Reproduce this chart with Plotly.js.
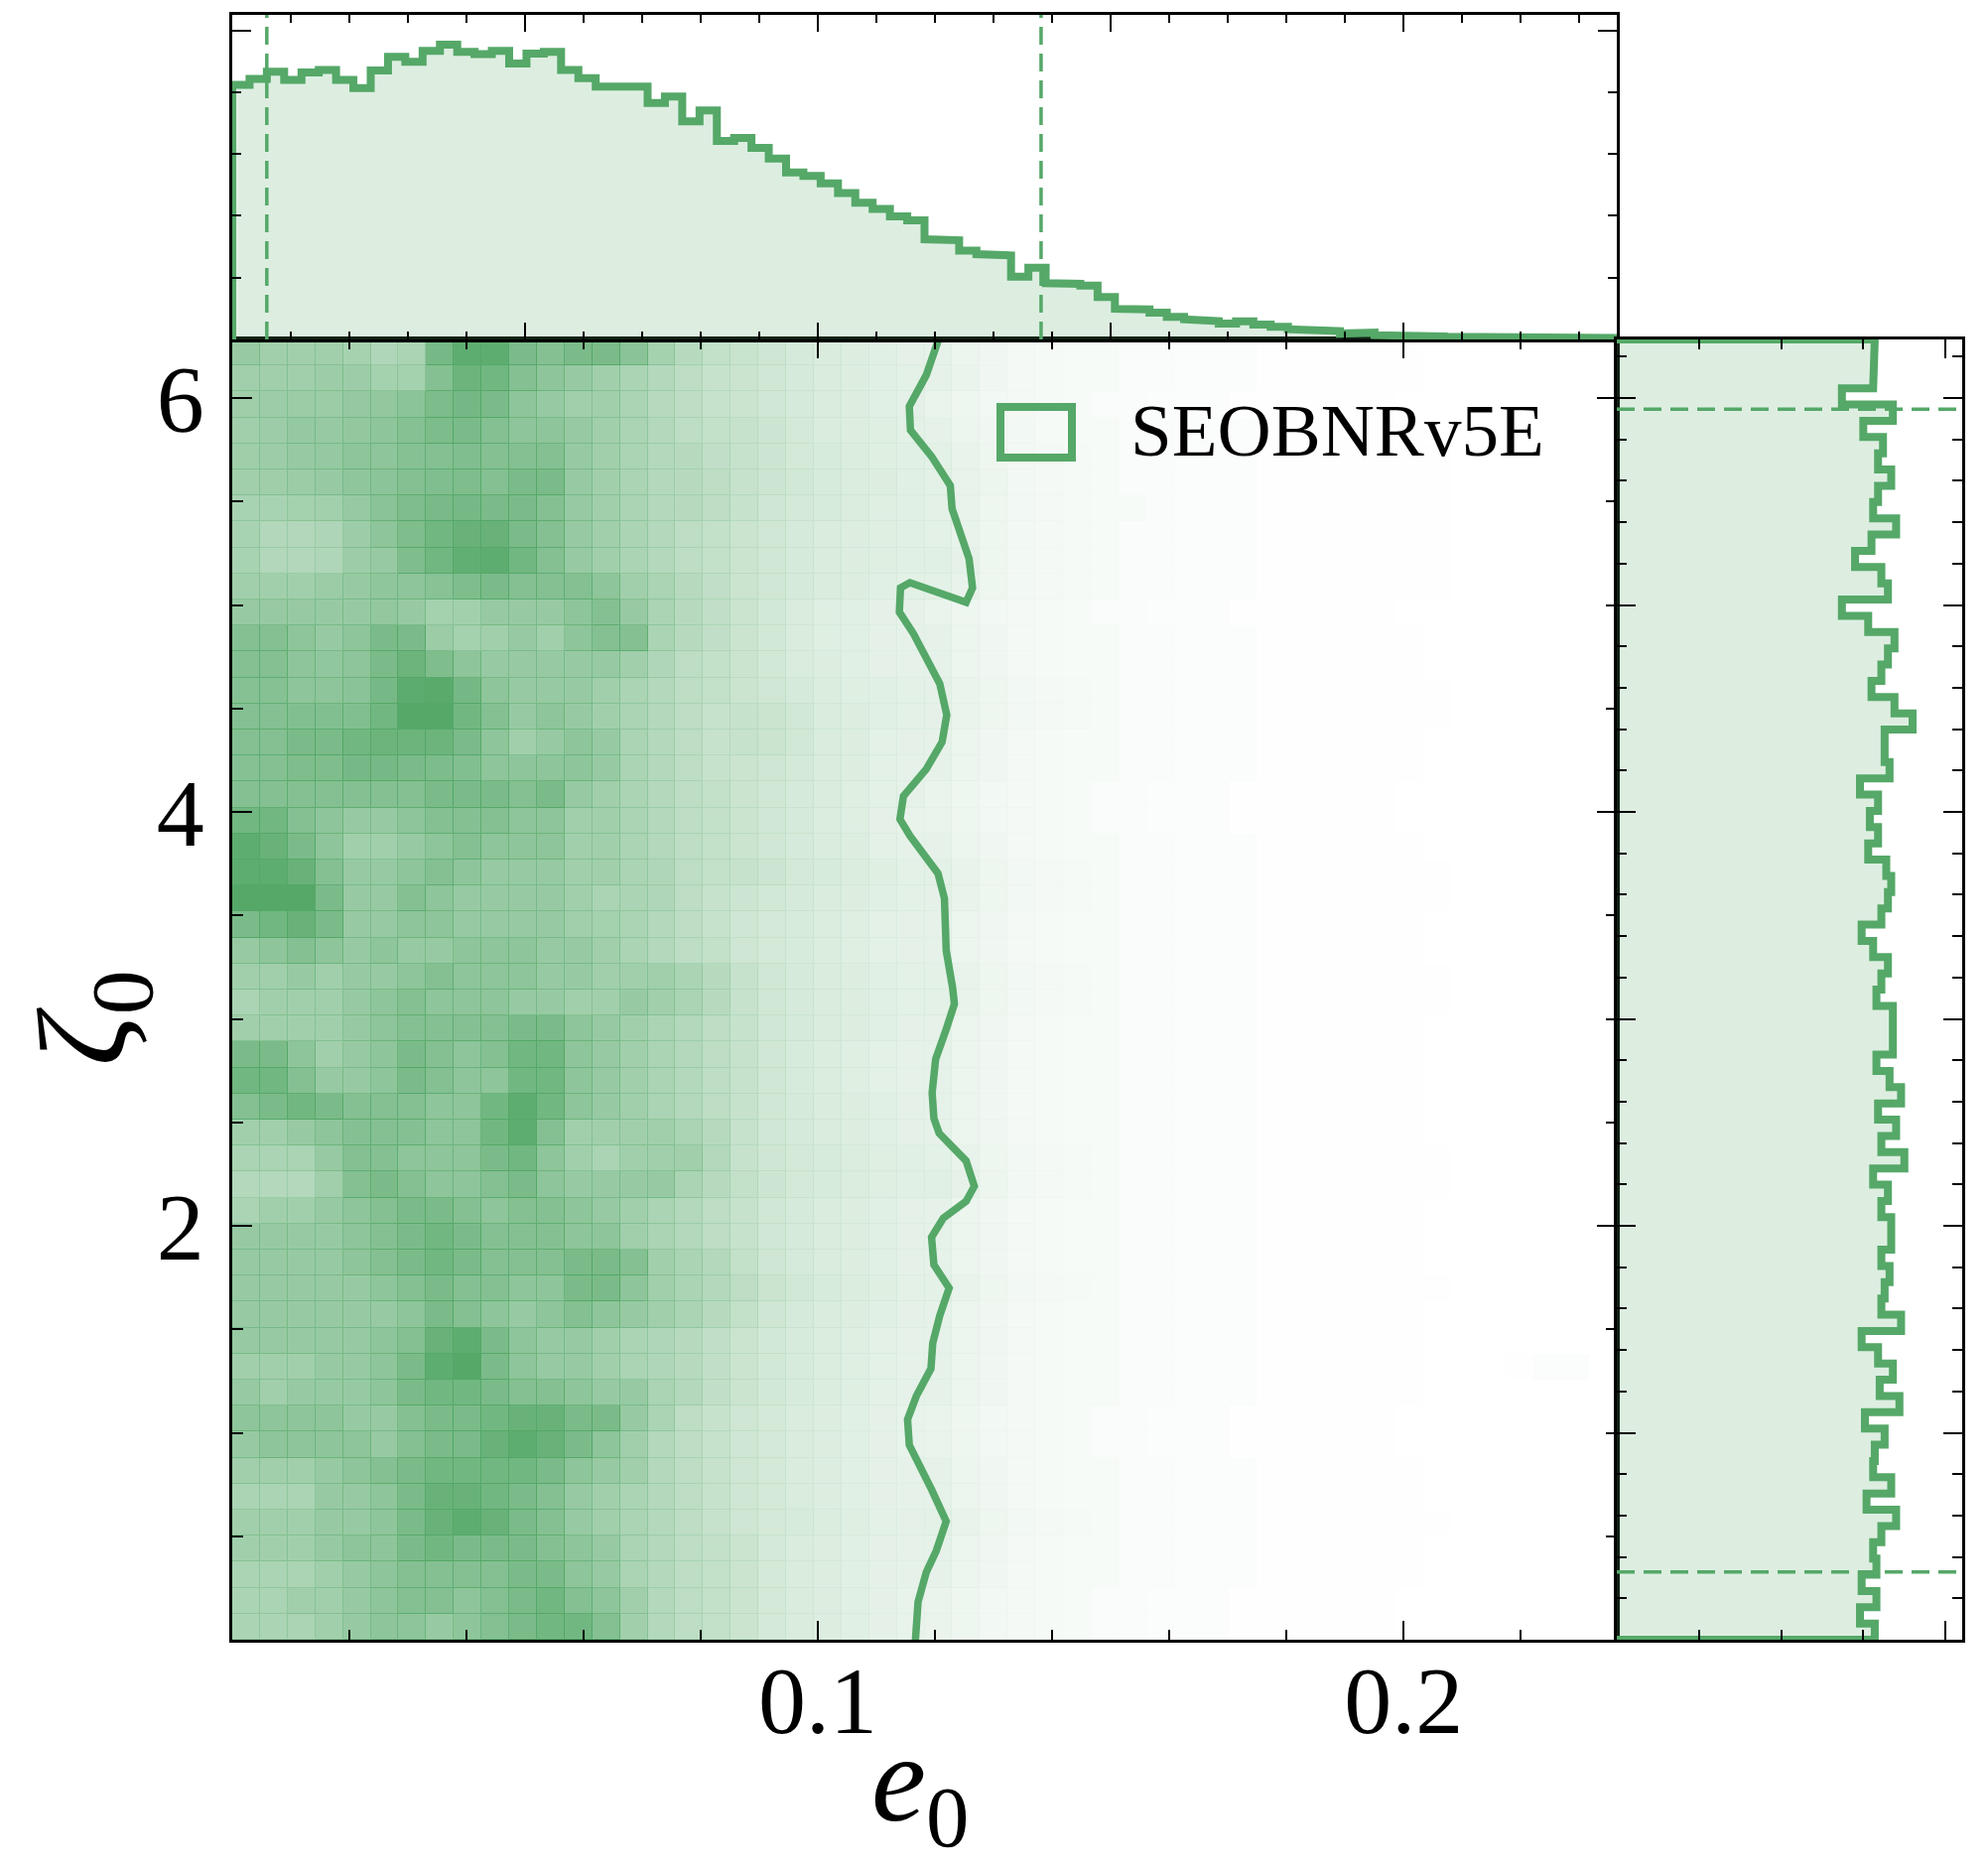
<!DOCTYPE html>
<html>
<head>
<meta charset="utf-8">
<script src="https://cdn.plot.ly/plotly-3.0.1.min.js"></script>
<style>
  html, body { margin: 0; padding: 0; background: #ffffff; }
  #chart { width: 2003px; height: 1882px; }
</style>
</head>
<body>
<div id="chart"></div>
<script>
// ------------------------------------------------------------------
// Data
// ------------------------------------------------------------------
const E0_MIN = 0.0, E0_MAX = 0.2364;          // x range of the samples
const ZETA_MIN = 0.0, ZETA_MAX = 2 * Math.PI;  // y range of the samples

// marginal density of e0 (80 bins over [E0_MIN, E0_MAX])
const e0Density = [
  8.24, 8.43, 8.66, 8.40, 8.64, 8.72, 8.40, 8.13, 8.70, 9.14,
  8.98, 9.34, 9.54, 9.30, 9.23, 9.34, 8.93, 9.25, 9.30, 8.72,
  8.45, 8.18, 8.18, 8.18, 7.65, 7.86, 7.06, 7.41, 6.42, 6.52,
  6.20, 5.85, 5.40, 5.29, 5.05, 4.74, 4.42, 4.22, 3.98, 3.85,
  3.24, 3.21, 2.87, 2.76, 2.72, 2.03, 2.32, 1.82, 1.80, 1.74,
  1.37, 0.99, 0.97, 0.87, 0.73, 0.65, 0.59, 0.51, 0.59, 0.48,
  0.41, 0.33, 0.31, 0.27, 0.19, 0.22, 0.14, 0.16, 0.12, 0.10,
  0.09, 0.08, 0.07, 0.07, 0.06, 0.05, 0.05, 0.04, 0.04, 0.05
];

// marginal density of zeta0 (80 bins over [0, 2pi]), bottom to top
const zetaDensity = [
  0.157, 0.148, 0.158, 0.149, 0.158, 0.156, 0.161, 0.170, 0.152, 0.167,
  0.156, 0.157, 0.163, 0.151, 0.172, 0.160, 0.168, 0.159, 0.149, 0.173,
  0.161, 0.163, 0.166, 0.161, 0.167, 0.167, 0.161, 0.165, 0.156, 0.175,
  0.161, 0.170, 0.159, 0.173, 0.166, 0.158, 0.168, 0.168, 0.168, 0.158,
  0.161, 0.165, 0.156, 0.149, 0.161, 0.165, 0.167, 0.164, 0.153, 0.159,
  0.154, 0.159, 0.148, 0.166, 0.163, 0.163, 0.180, 0.169, 0.155, 0.161,
  0.165, 0.169, 0.153, 0.137, 0.165, 0.161, 0.145, 0.155, 0.170, 0.156,
  0.159, 0.167, 0.159, 0.162, 0.150, 0.168, 0.137, 0.156, 0.156, 0.157
];

// 5% / 95% quantiles (dashed lines)
const e0Quantiles = [0.0059, 0.1381];
const zetaQuantiles = [0.327, 5.946];

// 90% credible contour, traced from top to bottom
const contourE0 = [
  0.1208, 0.1185, 0.1156, 0.1158, 0.1194, 0.1226, 0.1229, 0.1258, 0.1264, 0.1253,
  0.1157, 0.1141, 0.1139, 0.1163, 0.1208, 0.1220, 0.1212, 0.1185, 0.1146, 0.1140,
  0.1157, 0.1205, 0.1216, 0.1219, 0.1230, 0.1233, 0.1219, 0.1201, 0.1195, 0.1198,
  0.1207, 0.1253, 0.1267, 0.1253, 0.1214, 0.1194, 0.1198, 0.1224, 0.1208, 0.1196,
  0.1193, 0.1168, 0.1153, 0.1156, 0.1194, 0.1219, 0.1202, 0.1185, 0.1171, 0.1166
];
const contourZeta = [
  6.300, 6.111, 5.960, 5.845, 5.718, 5.577, 5.466, 5.224, 5.083, 5.013,
  5.108, 5.083, 4.966, 4.862, 4.620, 4.469, 4.338, 4.207, 4.076, 3.965,
  3.885, 3.703, 3.582, 3.331, 3.150, 3.072, 2.950, 2.806, 2.642, 2.519,
  2.447, 2.314, 2.191, 2.119, 2.037, 1.945, 1.812, 1.699, 1.566, 1.433,
  1.310, 1.177, 1.064, 0.941, 0.726, 0.572, 0.429, 0.326, 0.183, -0.020
];

// 2D histogram (50 x 50), relative intensity 0-100, rows from top (zeta ~ 2pi) to bottom
const heatTopToBottom = [
  [55,50,50,50,47,42,45,72,85,85,70,65,70,70,62,48,38,32,29,26,22,20,18,16,14, 13,10,8,6,5,4,4,3,3,2,2,2,1,1,1,1,1,1,0,0,0,0,0,0,0],
  [50,50,50,52,52,48,48,65,78,75,65,60,55,50,45,40,35,30,28,25,22,20,18,16,15, 13,11,8,6,5,4,4,3,3,2,2,2,1,1,1,1,1,1,0,0,0,0,0,0,0],
  [51,52,53,53,56,57,61,69,73,70,60,55,50,50,45,38,35,30,28,25,22,20,18,16,14, 11,9,7,6,5,4,3,3,2,2,2,1,1,1,1,1,1,0,0,0,0,0,0,0,0],
  [50,52,56,55,57,60,64,69,70,65,60,60,55,50,45,40,35,32,30,27,23,20,18,17,15, 13,10,8,7,5,4,4,3,3,2,2,2,1,1,1,1,1,1,0,0,0,0,0,0,0],
  [51,52,55,56,60,60,64,65,67,65,65,65,55,50,45,40,38,33,30,27,23,21,19,17,16, 15,12,9,7,6,5,4,3,3,2,2,2,1,1,1,1,1,1,1,0,0,0,0,0,0],
  [50,51,53,55,59,61,65,67,68,65,70,70,55,50,45,40,38,35,30,27,24,21,19,18,16, 15,12,10,7,6,5,4,3,3,2,2,2,1,1,1,1,1,1,1,0,0,0,0,0,0],
  [46,46,48,49,55,62,68,71,72,70,70,65,55,50,45,40,38,35,30,26,23,21,19,17,16, 15,12,9,7,6,5,4,4,3,2,2,2,1,1,1,1,1,1,1,0,0,0,0,0,0],
  [46,41,41,43,52,60,68,75,80,80,70,65,55,50,45,40,35,32,28,25,22,20,18,17,16, 15,12,9,7,6,5,4,3,3,2,2,2,1,1,1,1,1,1,1,0,0,0,0,0,0],
  [46,41,41,42,52,55,68,75,83,85,75,65,55,50,45,40,35,32,28,25,22,20,18,17,16, 16,13,9,7,6,5,4,3,3,2,2,2,1,1,1,1,1,1,1,0,0,0,0,0,0],
  [50,50,50,53,55,59,60,63,68,70,65,65,65,60,50,45,38,33,28,25,22,20,18,16,15, 15,12,9,7,6,5,4,3,3,2,2,2,1,1,1,1,1,1,1,0,0,0,0,0,0],
  [55,55,55,55,55,57,55,48,49,55,55,55,60,65,55,45,38,33,28,24,20,17,16,14,13, 11,9,7,6,5,4,3,3,2,2,2,1,1,1,1,1,1,0,0,0,0,0,0,0,0],
  [65,65,60,55,60,70,70,53,48,50,55,50,60,65,65,45,38,33,28,24,20,17,16,14,13, 13,10,8,6,5,4,4,3,3,2,2,2,1,1,1,1,1,1,0,0,0,0,0,0,0],
  [65,65,60,58,60,70,78,68,60,55,55,55,55,55,50,42,35,32,28,24,20,18,16,14,13, 13,10,8,6,5,4,4,3,3,2,2,2,1,1,1,1,1,1,0,0,0,0,0,0,0],
  [64,64,60,60,62,72,86,88,73,60,55,55,55,50,45,40,35,32,28,25,22,19,17,16,15, 14,11,9,7,6,5,4,3,3,2,2,2,1,1,1,1,1,1,1,0,0,0,0,0,0],
  [65,65,66,66,66,75,92,92,75,65,55,60,55,50,45,40,35,30,30,28,24,20,18,16,15, 14,11,9,7,6,5,4,3,3,2,2,2,1,1,1,1,1,1,1,0,0,0,0,0,0],
  [65,65,70,70,75,78,78,78,70,60,50,55,60,55,45,40,35,30,30,28,24,20,18,15,14, 13,10,8,6,5,4,4,3,3,2,2,2,1,1,1,1,1,1,0,0,0,0,0,0,0],
  [64,65,68,68,72,72,70,69,66,60,60,60,60,55,45,40,35,30,28,26,23,20,18,15,13, 13,10,8,6,5,4,4,3,3,2,2,2,1,1,1,1,1,1,0,0,0,0,0,0,0],
  [65,65,65,65,65,65,65,70,70,70,65,70,55,50,45,40,35,32,28,25,22,20,17,15,13, 11,9,7,6,5,4,3,3,2,2,2,1,1,1,1,1,1,0,0,0,0,0,0,0,0],
  [75,75,65,60,55,55,60,65,65,65,60,60,50,50,45,40,35,32,28,25,22,19,17,14,12, 11,9,7,6,5,4,3,3,2,2,2,1,1,1,1,1,1,0,0,0,0,0,0,0,0],
  [85,80,70,60,50,50,55,60,65,60,60,60,50,50,45,40,35,32,28,25,22,20,18,15,13, 13,10,8,6,5,4,4,3,3,2,2,2,1,1,1,1,1,1,0,0,0,0,0,0,0],
  [85,85,80,65,55,55,60,65,60,55,55,55,50,50,45,42,35,32,30,27,23,21,19,17,15, 15,12,9,7,6,5,4,3,3,2,2,2,1,1,1,1,1,1,1,0,0,0,0,0,0],
  [90,95,90,70,55,55,65,60,55,55,55,55,50,45,45,42,35,30,27,24,22,20,18,16,15, 14,12,9,7,6,5,4,3,3,2,2,2,1,1,1,1,1,1,1,0,0,0,0,0,0],
  [70,75,80,70,55,55,60,60,55,55,55,55,50,48,45,40,35,30,26,23,21,19,17,15,14, 13,10,8,6,5,4,4,3,3,2,2,2,1,1,1,1,1,1,0,0,0,0,0,0,0],
  [55,60,65,60,55,60,55,55,60,60,60,55,55,50,45,40,35,32,26,23,21,19,17,15,14, 13,10,8,6,5,4,4,3,3,2,2,2,1,1,1,1,1,1,0,0,0,0,0,0,0],
  [50,50,55,50,55,55,60,65,60,60,60,55,55,50,50,50,45,38,30,25,22,20,18,16,15, 15,12,9,7,6,5,4,3,3,2,2,2,1,1,1,1,1,1,1,0,0,0,0,0,0],
  [45,50,50,50,55,60,65,60,60,60,55,55,50,50,55,50,45,38,30,25,22,20,18,16,15, 15,12,9,7,6,5,4,3,3,2,2,2,1,1,1,1,1,1,1,0,0,0,0,0,0],
  [50,50,50,50,55,60,65,65,65,65,70,70,60,55,50,45,40,35,30,25,22,20,18,16,14, 13,10,8,6,5,4,4,3,3,2,2,2,1,1,1,1,1,1,0,0,0,0,0,0,0],
  [70,70,60,50,55,60,70,65,60,65,75,75,60,55,50,45,40,35,30,25,21,19,17,15,13, 13,10,8,6,5,4,4,3,3,2,2,2,1,1,1,1,1,1,0,0,0,0,0,0,0],
  [75,75,65,55,55,60,70,65,60,60,75,75,60,55,50,45,40,35,30,25,21,19,17,15,13, 13,10,8,6,5,4,4,3,3,2,2,2,1,1,1,1,1,1,0,0,0,0,0,0,0],
  [65,70,75,70,65,65,65,60,60,75,85,75,60,55,50,45,40,35,30,25,22,20,18,16,14, 13,10,8,6,5,4,4,3,3,2,2,2,1,1,1,1,1,1,0,0,0,0,0,0,0],
  [50,50,55,60,65,65,65,60,60,75,85,65,50,50,50,50,45,38,30,25,22,20,18,16,14, 13,10,8,6,5,4,4,3,3,2,2,2,1,1,1,1,1,1,0,0,0,0,0,0,0],
  [45,45,45,55,65,65,60,60,60,70,75,60,50,45,50,50,50,40,30,26,23,21,19,17,16, 15,12,9,7,6,5,4,3,3,2,2,2,1,1,1,1,1,1,1,0,0,0,0,0,0],
  [40,40,40,50,65,70,65,60,60,65,70,60,55,55,55,55,45,38,32,27,23,21,19,17,16, 16,13,10,7,6,5,4,3,3,2,2,2,1,1,1,1,1,1,1,0,0,0,0,0,0],
  [45,50,50,55,60,65,70,70,65,60,65,65,60,55,50,45,40,35,30,25,22,20,18,16,14, 13,10,8,6,5,4,4,3,3,2,2,2,1,1,1,1,1,1,0,0,0,0,0,0,0],
  [55,55,55,55,60,65,70,75,70,65,65,65,60,60,50,45,40,35,30,25,22,20,18,16,14, 13,10,8,6,5,4,4,3,3,2,2,2,1,1,1,1,1,1,0,0,0,0,0,0,0],
  [55,55,55,55,60,65,70,75,70,65,65,65,70,70,65,50,45,40,32,26,22,20,18,16,14, 13,10,8,6,5,4,4,3,3,2,2,2,1,1,1,1,1,1,0,0,0,0,0,0,0],
  [55,55,55,55,55,60,65,70,65,65,60,60,70,70,60,50,45,40,35,28,24,21,19,17,15, 15,12,9,7,6,5,4,3,3,2,2,2,1,1,1,1,1,1,1,0,0,0,0,0,0],
  [55,55,55,55,55,55,60,70,65,60,55,60,65,60,55,50,45,38,32,26,22,20,18,16,14, 13,10,8,6,5,4,4,3,3,2,2,2,1,1,1,1,1,1,0,0,0,0,0,0,0],
  [55,55,55,55,55,60,65,80,85,70,60,55,55,50,45,42,38,33,28,24,21,19,17,15,13, 13,10,8,6,5,4,4,3,3,2,2,2,1,1,1,1,1,1,0,0,0,0,0,0,0],
  [50,50,50,55,55,60,70,85,90,70,60,55,55,50,45,42,38,33,28,24,21,19,17,15,13, 13,10,8,6,5,4,4,3,3,2,2,2,1,1,1,1,1,1,0,0,0,1,2,2,0],
  [55,50,55,55,55,60,70,75,75,70,65,65,60,55,55,45,40,33,28,24,21,19,17,15,13, 13,10,8,6,5,4,4,3,3,2,2,2,1,1,1,1,1,1,0,0,0,0,0,0,0],
  [60,60,60,60,55,55,65,70,70,75,80,80,70,70,55,45,35,30,26,23,20,18,16,14,12, 11,9,7,6,5,4,3,3,2,2,2,1,1,1,1,1,1,0,0,0,0,0,0,0,0],
  [55,60,60,60,60,55,65,70,70,80,85,80,70,60,50,40,35,30,26,23,20,18,16,14,12, 11,9,7,6,5,4,3,3,2,2,2,1,1,1,1,1,1,0,0,0,0,0,0,0,0],
  [50,50,50,55,60,65,70,75,75,75,75,70,60,55,50,40,35,30,26,23,20,18,16,14,13, 13,10,8,6,5,4,4,3,3,2,2,2,1,1,1,1,1,1,0,0,0,0,0,0,0],
  [45,45,45,55,55,60,70,80,80,75,70,65,55,50,45,40,35,30,26,23,20,18,16,14,13, 13,10,8,6,5,4,4,3,3,2,2,2,1,1,1,1,1,1,0,0,0,0,0,0,0],
  [50,50,50,55,55,60,70,80,85,80,70,65,55,50,45,40,35,30,26,23,21,19,17,15,14, 15,12,9,7,6,5,4,3,3,2,2,2,1,1,1,1,1,1,1,0,0,0,0,0,0],
  [50,50,50,55,60,60,70,75,70,70,70,65,60,55,45,40,35,32,28,23,20,18,16,14,13, 13,10,8,6,5,4,4,3,3,2,2,2,1,1,1,1,1,1,0,0,0,0,0,0,0],
  [45,45,45,50,55,60,65,65,65,65,70,70,60,55,45,40,35,32,28,23,20,18,16,14,13, 13,10,8,6,5,4,4,3,3,2,2,2,1,1,1,1,1,1,0,0,0,0,0,0,0],
  [45,45,50,50,55,60,65,65,60,65,70,75,65,60,50,40,35,32,28,23,20,18,16,14,12, 11,9,7,6,5,4,3,3,2,2,2,1,1,1,1,1,1,0,0,0,0,0,0,0,0],
  [45,45,45,50,55,60,60,55,60,65,70,75,75,65,50,40,35,32,28,23,20,18,16,14,12, 11,9,7,6,5,4,3,3,2,2,2,1,1,1,1,1,1,0,0,0,0,0,0,0,0]
];

const legendLabel = 'SEOBNRv5E';
const xTickVals = [0.1, 0.2], xTickText = ['0.1', '0.2'];
const yTickVals = [2, 4, 6],   yTickText = ['2', '4', '6'];
const xTitle = '<i>e</i><sub>0</sub>';
const yTitle = '<i>ζ</i><sub>0</sub>';

// ------------------------------------------------------------------
// Derived structures
// ------------------------------------------------------------------
const GREEN = 'rgb(85,168,104)';
const GREEN_FILL = 'rgba(85,168,104,0.2)';
const Z_TOP = 90;   // intensity that maps to the full green

function edges(lo, hi, n) {
  const out = [];
  for (let i = 0; i <= n; i++) out.push(lo + (hi - lo) * i / n);
  return out;
}
function stepPath(ed, vals) {
  const a = [ed[0]], b = [0];
  for (let i = 0; i < vals.length; i++) {
    a.push(ed[i], ed[i + 1]);
    b.push(vals[i], vals[i]);
  }
  a.push(ed[vals.length]); b.push(0);
  return [a, b];
}

const heatZ = heatTopToBottom.slice().reverse();
const nCols = heatZ[0].length, nRows = heatZ.length;
const heatX = edges(E0_MIN, E0_MAX, nCols);
const heatY = edges(ZETA_MIN, ZETA_MAX, nRows);
const heatEdgeZ = heatZ.map(r => r.map(v => Math.min(Z_TOP, v * 1.3)));

const [topX, topY] = stepPath(edges(E0_MIN, E0_MAX, e0Density.length), e0Density);
const [rightY, rightX] = stepPath(edges(ZETA_MIN, ZETA_MAX, zetaDensity.length), zetaDensity);

const colorscale = [[0, 'rgb(255,255,255)'], [1, GREEN]];

const traces = [
  { type: 'heatmap', x: heatX, y: heatY, z: heatEdgeZ, zmin: 0, zmax: Z_TOP,
    colorscale: colorscale, showscale: false, hoverinfo: 'skip', xaxis: 'x', yaxis: 'y' },
  { type: 'heatmap', x: heatX, y: heatY, z: heatZ, zmin: 0, zmax: Z_TOP,
    colorscale: colorscale, showscale: false, xgap: 1, ygap: 1, hoverinfo: 'skip', xaxis: 'x', yaxis: 'y' },
  { type: 'scatter', mode: 'lines', x: contourE0, y: contourZeta, xaxis: 'x', yaxis: 'y',
    line: { color: GREEN, width: 7.5 }, hoverinfo: 'skip', name: legendLabel },
  { type: 'scatter', mode: 'lines', x: topX, y: topY, xaxis: 'x2', yaxis: 'y2',
    fill: 'toself', fillcolor: GREEN_FILL, line: { color: GREEN, width: 8 }, hoverinfo: 'skip' },
  { type: 'scatter', mode: 'lines', x: rightX, y: rightY, xaxis: 'x3', yaxis: 'y3',
    fill: 'toself', fillcolor: GREEN_FILL, line: { color: GREEN, width: 8 }, hoverinfo: 'skip' }
];

// ------------------------------------------------------------------
// Layout
// ------------------------------------------------------------------
const W = 2003, H = 1882;
const X0 = 234 / W, X1 = 1629 / W, XR = 1977 / W;
const Y0 = (H - 1652) / H, Y1 = (H - 342) / H, YT = (H - 15) / H;

const base = {
  showline: true, linewidth: 3, linecolor: 'black', mirror: 'ticks',
  ticks: 'inside', tickcolor: 'black', tickwidth: 2,
  showgrid: false, zeroline: false, fixedrange: true
};
function minor(dtick, len) {
  return { ticks: 'inside', tickmode: 'linear', tick0: 0, dtick: dtick,
           ticklen: len, tickwidth: 2, tickcolor: 'black', showgrid: false };
}
const SERIF = 'Liberation Serif, Times New Roman, serif';
const tickFont = { family: SERIF, size: 96, color: 'black' };
const titleFont = { family: SERIF, size: 128, color: 'black' };
const xTitleFont = { family: SERIF, size: 124, color: 'black' };

const layout = {
  width: W, height: H,
  margin: { l: 0, r: 0, t: 0, b: 0, pad: 0 },
  paper_bgcolor: 'white', plot_bgcolor: 'white',
  showlegend: false, hovermode: false,
  font: { family: SERIF, color: 'black' },
  xaxis: Object.assign({}, base, {
    domain: [X0, X1], anchor: 'y', range: [E0_MIN, E0_MAX],
    tickmode: 'array', tickvals: xTickVals, ticktext: xTickText, ticklen: 19,
    minor: minor(0.02, 10), tickfont: tickFont, ticklabelstandoff: -24
  }),
  yaxis: Object.assign({}, base, {
    domain: [Y0, Y1], anchor: 'x', range: [ZETA_MIN, ZETA_MAX],
    tickmode: 'array', tickvals: yTickVals, ticktext: yTickText, ticklen: 20,
    minor: minor(0.5, 11), tickfont: tickFont, ticklabelstandoff: 6
  }),
  xaxis2: Object.assign({}, base, {
    domain: [X0, X1], anchor: 'y2', range: [E0_MIN, E0_MAX],
    tickmode: 'linear', tick0: 0, dtick: 0.05, ticklen: 17,
    minor: minor(0.01, 8), showticklabels: false
  }),
  yaxis2: Object.assign({}, base, {
    domain: [Y1, YT], anchor: 'x2', range: [0, 10.5],
    tickmode: 'linear', tick0: 0, dtick: 10, ticklen: 19,
    minor: minor(2, 9), showticklabels: false
  }),
  xaxis3: Object.assign({}, base, {
    domain: [X1, XR], anchor: 'y3', range: [0, 0.2102],
    tickmode: 'linear', tick0: 0, dtick: 0.2, ticklen: 19,
    minor: minor(0.05, 10), showticklabels: false
  }),
  yaxis3: Object.assign({}, base, {
    domain: [Y0, Y1], anchor: 'x3', range: [ZETA_MIN, ZETA_MAX],
    tickmode: 'linear', tick0: 0, dtick: 1, ticklen: 19,
    minor: minor(0.2, 10), showticklabels: false
  }),
  shapes: [
    ...e0Quantiles.map(q => ({ type: 'line', xref: 'x2', yref: 'y2 domain', x0: q, x1: q, y0: 0, y1: 1,
      line: { color: GREEN, width: 3.5, dash: '18px,9px' }, layer: 'above' })),
    ...zetaQuantiles.map(q => ({ type: 'line', xref: 'x3 domain', yref: 'y3', x0: 0, x1: 1, y0: q, y1: q,
      line: { color: GREEN, width: 3.5, dash: '18px,9px' }, layer: 'above' })),
    { type: 'rect', xref: 'paper', yref: 'paper',
      x0: 1008 / W, x1: 1080 / W, y0: (H - 461) / H, y1: (H - 410) / H,
      line: { color: GREEN, width: 8 }, fillcolor: 'rgba(0,0,0,0)', layer: 'above' }
  ],
  annotations: [
    { xref: 'paper', yref: 'paper', x: 1137 / W, y: (H - 433) / H,
      xanchor: 'left', yanchor: 'middle', showarrow: false, text: legendLabel,
      font: { family: SERIF, size: 75, color: 'black' } },
    // x-axis title (kept fully inside the figure)
    { xref: 'paper', yref: 'paper', x: 927 / W, y: 1 / H,
      xanchor: 'center', yanchor: 'bottom', showarrow: false, text: xTitle,
      font: xTitleFont },
    // y-axis title
    { xref: 'paper', yref: 'paper', x: 92 / W, y: (H - 1026) / H,
      xanchor: 'center', yanchor: 'middle', showarrow: false, text: yTitle,
      textangle: -90, font: titleFont }
  ]
};

Plotly.newPlot('chart', traces, layout, { staticPlot: true, displayModeBar: false });
</script>
</body>
</html>
